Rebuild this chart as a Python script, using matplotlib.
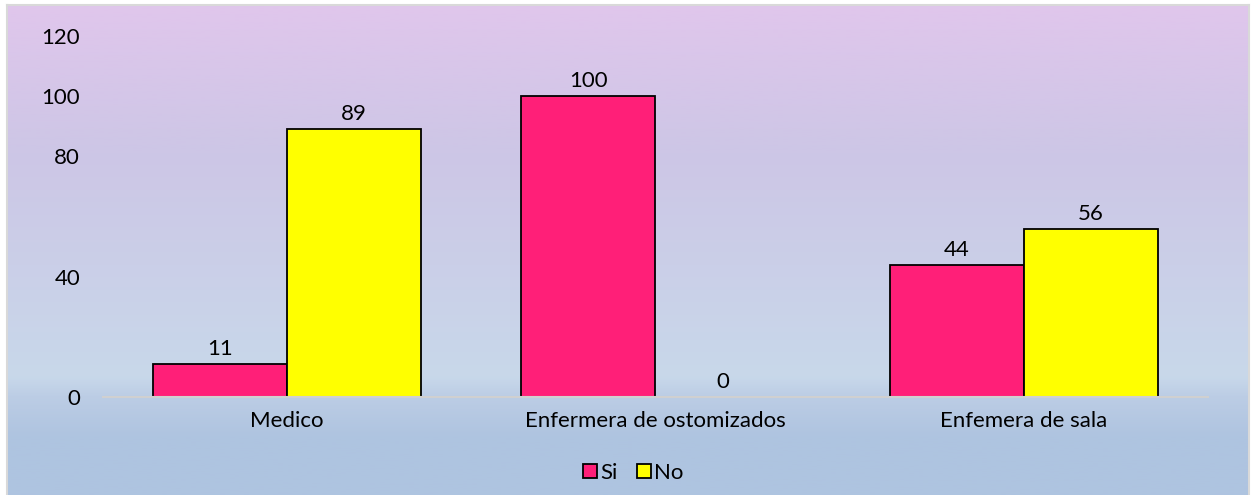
import matplotlib.pyplot as plt
import numpy as np
from matplotlib.colors import LinearSegmentedColormap

categories = ["Medico", "Enfermera de ostomizados", "Enfemera de sala"]
si_values = [11, 100, 44]
no_values = [89, 0, 56]
yticks = [0, 40, 80, 100, 120]

plt.rcParams['font.family'] = ['Lato', 'DejaVu Sans']

fig = plt.figure(figsize=(12.56, 4.95), dpi=100)

# gradient background inside light grey frame
bg = fig.add_axes([7/1256, 0, 1242/1256, 1 - 5/495])
cmap = LinearSegmentedColormap.from_list("bg", [
    (0.0, "#e0c6ec"), (0.3, "#cdc6e6"), (0.76, "#c8d8ea"),
    (0.8, "#bccde5"), (0.88, "#afc4e0"), (1.0, "#aec4e0")])
bg.imshow(np.linspace(0, 1, 256)[:, None], aspect='auto', cmap=cmap,
          extent=[0, 1, 0, 1], origin='upper')
bg.set_xticks([]); bg.set_yticks([])
for s in bg.spines.values():
    s.set_color("#d9d9d9")
    s.set_linewidth(1.5)
bg.spines['bottom'].set_visible(False)

ax = fig.add_axes([103/1256, 1 - 397/495, 1105/1256, 361/495])
ax.patch.set_alpha(0)
x = np.arange(len(categories))
w = 0.364
b1 = ax.bar(x - w/2, si_values, w, color="#ff1f78", edgecolor="black", linewidth=1.3, label="Si")
b2 = ax.bar(x + w/2, no_values, w, color="#ffff00", edgecolor="black", linewidth=1.3, label="No")
for bars, vals in ((b1, si_values), (b2, no_values)):
    for r, v in zip(bars, vals):
        ax.text(r.get_x() + r.get_width()/2, v + 1.6, str(v), ha='center', va='bottom', fontsize=16)

ax.set_xlim(-0.5, 2.5)
ax.set_ylim(0, 120)
ax.set_yticks(yticks)
ax.set_xticks(x)
ax.set_xticklabels(categories, fontsize=16)
ax.tick_params(axis='both', length=0, labelsize=16)
ax.tick_params(axis='y', pad=16.5)
ax.tick_params(axis='x', pad=10)
for s in ['top', 'right', 'left']:
    ax.spines[s].set_visible(False)
ax.spines['bottom'].set_color("#d0d0d0")
ax.spines['bottom'].set_linewidth(1.5)

ax.legend(loc='center', bbox_to_anchor=(0.48, -0.21), ncol=2, frameon=False,
          fontsize=16, handlelength=0.6, handleheight=0.6, handletextpad=0.15, columnspacing=0.9)

fig.savefig("out.png", dpi=100)
